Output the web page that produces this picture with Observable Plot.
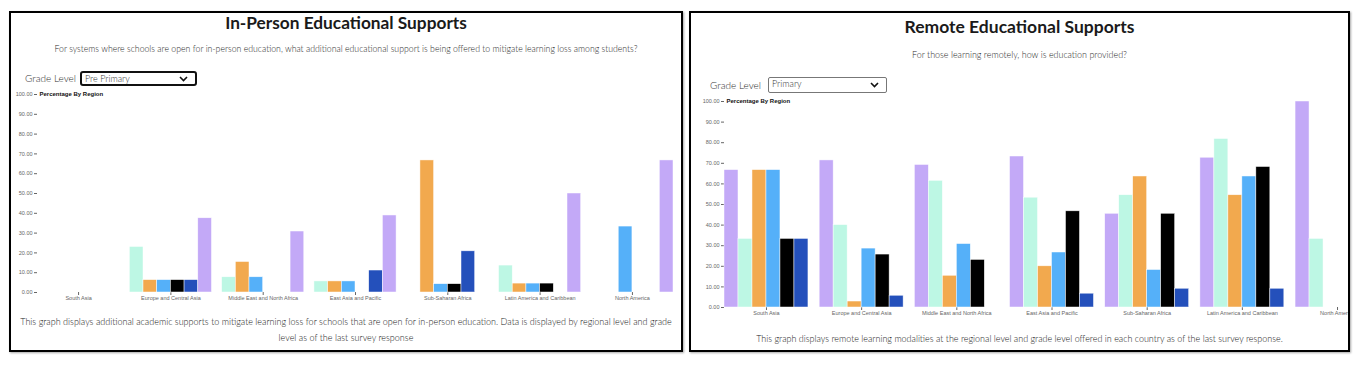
<!DOCTYPE html>
<html>
<head>
<meta charset="utf-8">
<script src="https://cdn.jsdelivr.net/npm/d3@7"></script>
<script src="https://cdn.jsdelivr.net/npm/@observablehq/plot@0.6"></script>
<style>
  body { margin: 0; background: #fff; width: 1360px; height: 365px; position: relative; overflow: hidden; font-family: "Lato", "Open Sans", sans-serif; }
  .panel { position: absolute; top: 11px; height: 341px; box-sizing: border-box; border: 2px solid #000; overflow: hidden; background: #fff; box-shadow: 1px 1px 2px rgba(0,0,0,0.35); }
  .txt { position: absolute; left: 0; right: 0; text-align: center; white-space: nowrap; }
  .title { font-weight: 700; color: #1a1a1a; font-size: 21px; line-height: 20px; }
  .sub { color: #2a2a2a; font-size: 9px; line-height: 12px; font-weight: 300; }
  .cap { color: #222; font-size: 10.5px; line-height: 16px; font-weight: 300; }
  .gl { position: absolute; color: #333; font-size: 10px; line-height: 12px; font-weight: 300; }
  .sel { position: absolute; box-sizing: border-box; background: #fff; font-size: 9px; color: #333; padding-left: 3px; line-height: 11px; font-weight: 300; }
  .sel svg.chev { position: absolute; right: 7px; top: 3px; }
  svg.chart { position: absolute; left: 0; max-width: none !important; overflow: hidden; }
</style>
</head>
<body>
<div class="panel" id="left" style="left:9px;width:674px;">
  <div class="txt title" style="top:0px" data-w="242">In-Person Educational Supports</div>
  <div class="txt sub" style="top:30px" data-w="584">For systems where schools are open for in-person education, what additional educational support is being offered to mitigate learning loss among students?</div>
  <div class="gl" style="left:14px;top:59px">Grade Level</div>
  <div class="sel" style="left:69px;top:58px;width:117px;height:15px;border:2px solid #111;border-radius:3px;">Pre Primary<svg class="chev" width="9" height="6" viewBox="0 0 9 6"><path d="M1 1 L4.5 4.5 L8 1" fill="none" stroke="#111" stroke-width="1.6"/></svg></div>
  <div class="txt cap" style="top:301px" data-w="652">This graph displays additional academic supports to mitigate learning loss for schools that are open for in-person education. Data is displayed by regional level and grade<br>level as of the last survey response</div>
</div>
<div class="panel" id="right" style="left:689px;width:661px;">
  <div class="txt title" style="top:4px" data-w="230">Remote Educational Supports</div>
  <div class="txt sub" style="top:36px" data-w="215">For those learning remotely, how is education provided?</div>
  <div class="gl" style="left:19px;top:66px">Grade Level</div>
  <div class="sel" style="left:77px;top:64px;width:119px;height:16px;border:1px solid #777;border-radius:2px;">Primary<svg class="chev" width="9" height="6" viewBox="0 0 9 6" style="top:4px"><path d="M1 1 L4.5 4.5 L8 1" fill="none" stroke="#111" stroke-width="1.6"/></svg></div>
  <div class="txt cap" style="top:318px" data-w="527">This graph displays remote learning modalities at the regional level and grade level offered in each country as of the last survey response.</div>
</div>
<script>
// ---- data ----
const regions = ["South Asia", "Europe and Central Asia", "Middle East and North Africa", "East Asia and Pacific", "Sub-Saharan Africa", "Latin America and Caribbean", "North America"];
const yTicks = [0, 10, 20, 30, 40, 50, 60, 70, 80, 90, 100];
const yLabel = "Percentage By Region";

// In-person supports (Pre Primary), one array per series, values by region
const inPersonSeries = ["Remedial classes", "Extended school day", "Tutoring", "Accelerated curriculum", "Summer school", "Other"];
const inPersonColors = ["#bdf7e4", "#f2a94e", "#55b0f9", "#000000", "#2450bb", "#c3a9f7"];
const ipRemedial = [0, 23.0, 7.7, 5.6, 0, 13.6, 0];
const ipExtended = [0, 6.25, 15.4, 5.6, 66.7, 4.5, 0];
const ipTutoring = [0, 6.25, 7.7, 5.6, 4.2, 4.5, 33.3];
const ipAccelerated = [0, 6.25, 0, 0, 4.2, 4.5, 0];
const ipSummer = [0, 6.25, 0, 11.1, 20.8, 0, 0];
const ipOther = [0, 37.5, 30.8, 38.9, 0, 50.0, 66.7];

// Remote modalities (Primary)
const remoteSeries = ["Online platforms", "Television", "Radio", "Mobile phones", "Take-home packages", "Other"];
const remoteColors = ["#c3a9f7", "#bdf7e4", "#f2a94e", "#55b0f9", "#000000", "#2450bb"];
const rmOnline = [66.7, 71.4, 69.2, 73.3, 45.5, 72.7, 100];
const rmTelevision = [33.3, 40.0, 61.5, 53.3, 54.5, 81.8, 33.3];
const rmRadio = [66.7, 2.9, 15.4, 20.0, 63.6, 54.5, 0];
const rmMobile = [66.7, 28.6, 30.8, 26.7, 18.2, 63.6, 0];
const rmPackages = [33.3, 25.7, 23.1, 46.7, 45.5, 68.2, 0];
const rmOther = [33.3, 5.7, 0, 6.7, 9.1, 9.1, 0];

function toRows(series, values) {
  const rows = [];
  series.forEach((s, i) => regions.forEach((r, j) => {
    if (values[i][j] > 0) rows.push({region: r, series: s, value: values[i][j]});
  }));
  return rows;
}

function chart({series, colors, values, width, height, marginLeft, marginRight, marginTop, marginBottom, padding}) {
  const rows = toRows(series, values);
  const svg = Plot.plot({
    width, height, marginLeft, marginRight, marginTop, marginBottom,
    style: {fontFamily: "'Liberation Sans', Arial, sans-serif", background: "transparent"},
    fx: {domain: regions, paddingInner: padding, paddingOuter: 0, round: false, label: null},
    x: {domain: series, padding: 0, round: false, axis: null},
    y: {domain: [0, 100], label: null},
    color: {domain: series, range: colors},
    marks: [
      Plot.axisY({ticks: yTicks, tickFormat: d3.format(".2f"), tickSize: 3, tickPadding: 2, fontSize: 5.5, color: "#666", label: null}),
      Plot.axisFx({anchor: "bottom", tickSize: 3, tickPadding: 1, fontSize: 5.5, color: "#666", label: null}),
      Plot.barY(rows, {fx: "region", x: "series", y: "value", fill: "series", stroke: "#fff", strokeWidth: 0.6, strokeOpacity: 0.8}),
      Plot.text([yLabel], {fx: () => regions[0], y: () => 100, frameAnchor: "left", text: d => d, textAnchor: "start", dx: 2, fontSize: 6, fontWeight: "bold", fill: "#111"})
    ]
  });
  svg.classList.add("chart");
  svg.style.maxWidth = "none";
  return svg;
}

const leftSvg = chart({
  series: inPersonSeries, colors: inPersonColors,
  values: [ipRemedial, ipExtended, ipTutoring, ipAccelerated, ipSummer, ipOther],
  width: 670, height: 220, marginLeft: 26, marginRight: 8, marginTop: 8, marginBottom: 14, padding: 0.11
});
leftSvg.style.top = "73px";
document.getElementById("left").appendChild(leftSvg);

const rightSvg = chart({
  series: remoteSeries, colors: remoteColors,
  values: [rmOnline, rmTelevision, rmRadio, rmMobile, rmPackages, rmOther],
  width: 694, height: 228, marginLeft: 33, marginRight: 6, marginTop: 8, marginBottom: 14, padding: 0.118
});
rightSvg.style.top = "80px";
document.getElementById("right").appendChild(rightSvg);

// fit text widths
document.querySelectorAll(".txt[data-w]").forEach(el => {
  const target = +el.dataset.w;
  const probe = document.createElement("span");
  probe.style.cssText = "white-space:nowrap;visibility:hidden;position:absolute;";
  const firstLine = el.innerHTML.split("<br>")[0];
  probe.innerHTML = firstLine;
  el.appendChild(probe);
  const cs = parseFloat(getComputedStyle(el).fontSize);
  const w = probe.getBoundingClientRect().width;
  el.removeChild(probe);
  if (w > 0) el.style.fontSize = (cs * target / w) + "px";
});
</script>
</body>
</html>
